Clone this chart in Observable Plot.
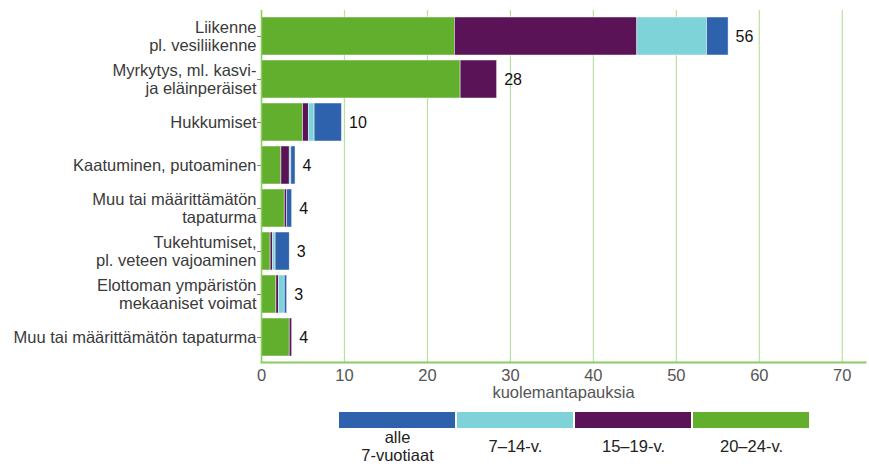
<!DOCTYPE html>
<html>
<head>
<meta charset="utf-8">
<script src="https://cdn.jsdelivr.net/npm/d3@7"></script>
<script src="https://cdn.jsdelivr.net/npm/@observablehq/plot@0.6"></script>
<style>
  html, body { margin: 0; padding: 0; background: #fff; }
  #chart svg { display: block; }
</style>
</head>
<body>
<div id="chart"></div>
<script>
// Causes (y categories), top to bottom
const causes = [
  "Liikenne\npl. vesiliikenne",
  "Myrkytys, ml. kasvi-\nja eläinperäiset",
  "Hukkumiset",
  "Kaatuminen, putoaminen",
  "Muu tai määrittämätön\ntapaturma",
  "Tukehtumiset,\npl. veteen vajoaminen",
  "Elottoman ympäristön\nmekaaniset voimat",
  "Muu tai määrittämätön tapaturma"
];
// Age groups (legend order) and colours
const ageGroups = ["alle\n7-vuotiaat", "7–14-v.", "15–19-v.", "20–24-v."];
const ageColors = ["#2e62ad", "#7dd3d7", "#5b1358", "#62ae2d"];
// Series values (deaths)
const age20_24 = [23.3, 24.0, 5.0, 2.4, 2.8, 1.1, 1.8, 3.4];
const age15_19 = [22.0, 4.4, 0.7, 1.0, 0.3, 0.3, 0.3, 0.3];
const age7_14  = [8.4, 0.0, 0.7, 0.2, 0.0, 0.3, 0.7, 0.0];
const ageUnder7 = [2.6, 0.0, 3.3, 0.5, 0.6, 1.7, 0.3, 0.0];
// Displayed total labels
const totalLabels = [56, 28, 10, 4, 4, 3, 3, 4];
// X axis ticks
const xTicks = [0, 10, 20, 30, 40, 50, 60, 70];
const xLabel = "kuolemantapauksia";

const seriesByGroup = {
  "20–24-v.": age20_24,
  "15–19-v.": age15_19,
  "7–14-v.": age7_14,
  "alle\n7-vuotiaat": ageUnder7
};
const stackOrder = ["20–24-v.", "15–19-v.", "7–14-v.", "alle\n7-vuotiaat"];
const rows = [];
for (const g of stackOrder) {
  causes.forEach((c, i) => rows.push({cause: c, group: g, value: seriesByGroup[g][i]}));
}
const totals = causes.map((c, i) => ({
  cause: c,
  total: age20_24[i] + age15_19[i] + age7_14[i] + ageUnder7[i],
  label: String(totalLabels[i])
}));

const font = "Liberation Sans, Arial, Helvetica, sans-serif";
const gridGreen = "#b9e0a0";
const axisGreen = "#8acb62";

const main = Plot.plot({
  width: 869,
  height: 402,
  marginLeft: 261,
  marginRight: 4,
  marginTop: 10,
  marginBottom: 40,
  style: {fontFamily: font, background: "#fff", overflow: "visible"},
  x: {domain: [0, 72.8]},
  y: {domain: causes, paddingInner: 0.12, paddingOuter: 0.15},
  color: {domain: ageGroups, range: ageColors},
  marks: [
    Plot.gridX(xTicks, {stroke: gridGreen, strokeOpacity: 1, strokeWidth: 1.2}),
    Plot.barX(rows, Plot.stackX({
      x: "value", y: "cause", fill: "group", z: "group",
      order: stackOrder,
      stroke: "#ffffff", strokeWidth: 0.6, strokeOpacity: 0.8
    })),
    Plot.text(totals, {
      x: "total", y: "cause", text: "label",
      textAnchor: "start", dx: 7, fontSize: 16, fill: "#111"
    }),
    Plot.ruleX([0], {stroke: axisGreen, strokeWidth: 1.5}),
    Plot.frame({anchor: "bottom", stroke: axisGreen, strokeWidth: 2}),
    Plot.axisY({
      tickSize: 4, tickPadding: 1, fontSize: 16.5, lineHeight: 1.07,
      stroke: "#888", color: "#3a3a3a", label: null
    }),
    Plot.axisX(xTicks, {
      tickSize: 0, tickPadding: 7, fontSize: 16.5, color: "#555",
      label: xLabel, labelAnchor: "center", labelArrow: "none", labelOffset: 35
    })
  ]
});

const legend = Plot.plot({
  width: 869,
  height: 62,
  marginLeft: 338,
  marginRight: 60,
  marginTop: 10,
  marginBottom: 36,
  style: {fontFamily: font, background: "#fff", overflow: "visible"},
  x: {domain: ageGroups, paddingInner: 0.02, paddingOuter: 0, axis: null},
  color: {domain: ageGroups, range: ageColors},
  marks: [
    Plot.cell(ageGroups, {x: d => d, fill: d => d}),
    Plot.text(ageGroups, {
      x: d => d, text: d => d, frameAnchor: "bottom", dy: 18,
      lineAnchor: "middle", fontSize: 16.5, lineHeight: 1.05, fill: "#222"
    })
  ]
});

const root = document.getElementById("chart");
root.appendChild(main);
root.appendChild(legend);
</script>
</body>
</html>
